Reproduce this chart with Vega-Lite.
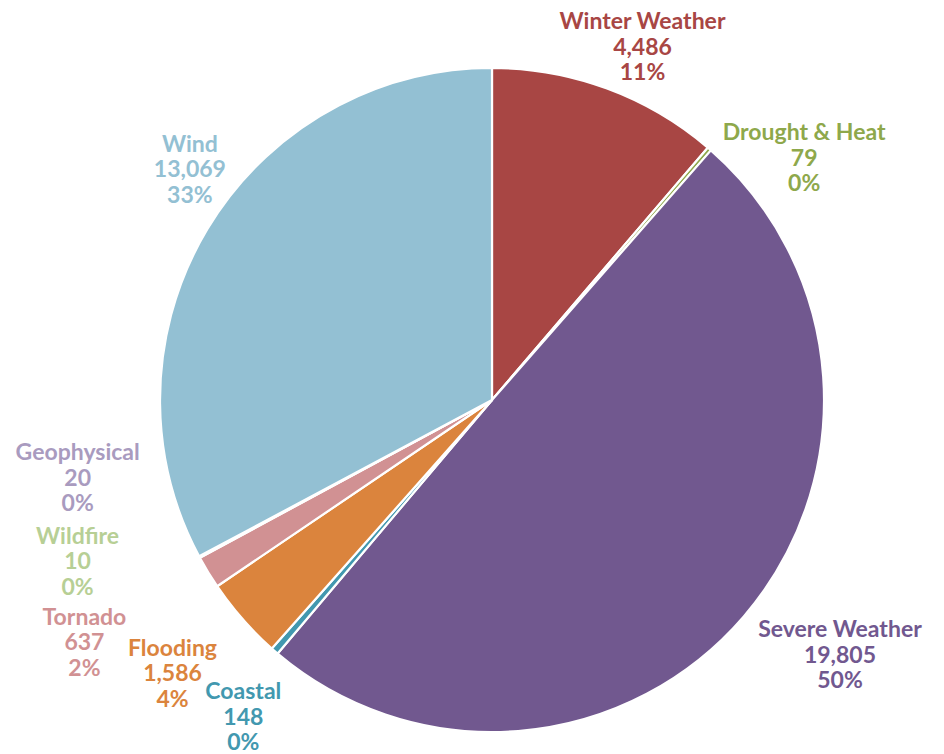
{
  "$schema": "https://vega.github.io/schema/vega-lite/v6.json",
  "width": 664,
  "height": 664,
  "autosize": {"type": "none"},
  "padding": {"left": 160, "top": 68, "right": 120, "bottom": 22},
  "background": "white",
  "config": {"view": {"stroke": null}},
  "data": {
    "values": [
      {"k": 1, "cat": "Winter Weather", "value": 4486, "lab": ["Winter Weather", "4,486", "11%"]},
      {"k": 2, "cat": "Drought & Heat", "value": 79, "lab": ["Drought & Heat", "79", "0%"]},
      {"k": 3, "cat": "Severe Weather", "value": 19805, "lab": ["Severe Weather", "19,805", "50%"]},
      {"k": 4, "cat": "Coastal", "value": 148, "lab": ["Coastal", "148", "0%"]},
      {"k": 5, "cat": "Flooding", "value": 1586, "lab": ["Flooding", "1,586", "4%"]},
      {"k": 6, "cat": "Tornado", "value": 637, "lab": ["Tornado", "637", "2%"]},
      {"k": 7, "cat": "Wildfire", "value": 10, "lab": ["Wildfire", "10", "0%"]},
      {"k": 8, "cat": "Geophysical", "value": 20, "lab": ["Geophysical", "20", "0%"]},
      {"k": 9, "cat": "Wind", "value": 13069, "lab": ["Wind", "13,069", "33%"]}
    ]
  },
  "encoding": {
    "theta": {"field": "value", "type": "quantitative", "stack": true},
    "order": {"field": "k", "type": "quantitative"},
    "color": {
      "field": "cat",
      "type": "nominal",
      "legend": null,
      "scale": {
        "domain": ["Winter Weather", "Drought & Heat", "Severe Weather", "Coastal", "Flooding", "Tornado", "Wildfire", "Geophysical", "Wind"],
        "range": ["#a84644", "#8ea84b", "#71588f", "#4298af", "#db843d", "#d19193", "#b7cf95", "#a99bbf", "#93c0d3"]
      }
    }
  },
  "layer": [
    {"mark": {"type": "arc", "stroke": "white", "strokeWidth": 2.2, "strokeJoin": "round"}},
    {
      "mark": {"type": "text", "radius": 332, "dx": 35.5, "dy": -59.2, "baseline": "alphabetic", "align": "center", "font": "Lato", "fontWeight": "bold", "fontSize": 23, "lineHeight": 25.5},
      "encoding": {"text": {"condition": {"test": "datum.cat === 'Winter Weather'", "field": "lab"}, "value": ""}}
    },
    {
      "mark": {"type": "text", "radius": 332, "dx": 94.8, "dy": -9, "baseline": "alphabetic", "align": "center", "font": "Lato", "fontWeight": "bold", "fontSize": 23, "lineHeight": 25.5},
      "encoding": {"text": {"condition": {"test": "datum.cat === 'Drought & Heat'", "field": "lab"}, "value": ""}}
    },
    {
      "mark": {"type": "text", "radius": 332, "dx": 96.4, "dy": 20.7, "baseline": "alphabetic", "align": "center", "font": "Lato", "fontWeight": "bold", "fontSize": 23, "lineHeight": 25.5},
      "encoding": {"text": {"condition": {"test": "datum.cat === 'Severe Weather'", "field": "lab"}, "value": ""}}
    },
    {
      "mark": {"type": "text", "radius": 332, "dx": -31.4, "dy": 48, "baseline": "alphabetic", "align": "center", "font": "Lato", "fontWeight": "bold", "fontSize": 23, "lineHeight": 25.5},
      "encoding": {"text": {"condition": {"test": "datum.cat === 'Coastal'", "field": "lab"}, "value": ""}}
    },
    {
      "mark": {"type": "text", "radius": 332, "dx": -70, "dy": 36.9, "baseline": "alphabetic", "align": "center", "font": "Lato", "fontWeight": "bold", "fontSize": 23, "lineHeight": 25.5},
      "encoding": {"text": {"condition": {"test": "datum.cat === 'Flooding'", "field": "lab"}, "value": ""}}
    },
    {
      "mark": {"type": "text", "radius": 332, "dx": -123.7, "dy": 52.5, "baseline": "alphabetic", "align": "center", "font": "Lato", "fontWeight": "bold", "fontSize": 23, "lineHeight": 25.5},
      "encoding": {"text": {"condition": {"test": "datum.cat === 'Tornado'", "field": "lab"}, "value": ""}}
    },
    {
      "mark": {"type": "text", "radius": 332, "dx": -122.2, "dy": -13.5, "baseline": "alphabetic", "align": "center", "font": "Lato", "fontWeight": "bold", "fontSize": 23, "lineHeight": 25.5},
      "encoding": {"text": {"condition": {"test": "datum.cat === 'Wildfire'", "field": "lab"}, "value": ""}}
    },
    {
      "mark": {"type": "text", "radius": 332, "dx": -121.7, "dy": -96.8, "baseline": "alphabetic", "align": "center", "font": "Lato", "fontWeight": "bold", "fontSize": 23, "lineHeight": 25.5},
      "encoding": {"text": {"condition": {"test": "datum.cat === 'Geophysical'", "field": "lab"}, "value": ""}}
    },
    {
      "mark": {"type": "text", "radius": 332, "dx": -17.4, "dy": -77.6, "baseline": "alphabetic", "align": "center", "font": "Lato", "fontWeight": "bold", "fontSize": 23, "lineHeight": 25.5},
      "encoding": {"text": {"condition": {"test": "datum.cat === 'Wind'", "field": "lab"}, "value": ""}}
    }
  ]
}
